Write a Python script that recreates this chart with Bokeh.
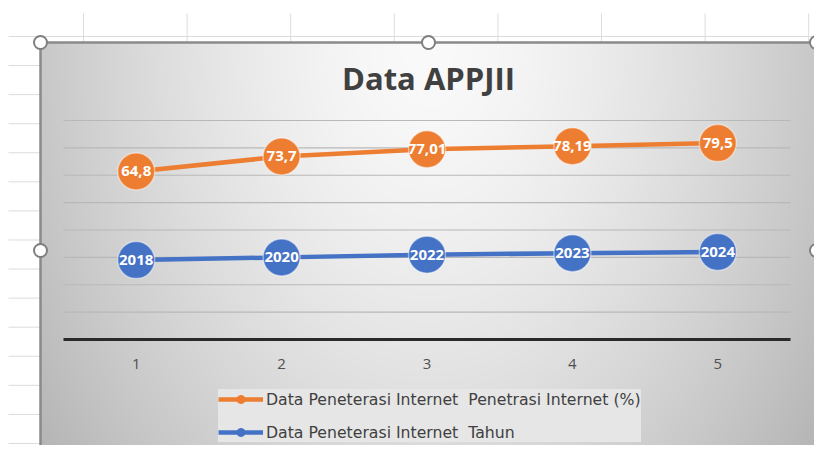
import numpy as np
from bokeh.plotting import figure
from bokeh.models import Range1d, Legend, LegendItem
from bokeh.core.properties import value
from bokeh.embed import file_html
from bokeh.resources import INLINE

# ---------------- data ----------------
categories = [1, 2, 3, 4, 5]
tick_labels = ["1", "2", "3", "4", "5"]
tahun = [2018, 2020, 2022, 2023, 2024]
penetrasi = [64.8, 73.7, 77.01, 78.19, 79.5]
y_ticks = [1960, 1980, 2000, 2020, 2040, 2060, 2080, 2100, 2120]
chart_title = "Data APPJII"
series_names = ["Data Peneterasi Internet  Penetrasi Internet (%)",
                "Data Peneterasi Internet  Tahun"]

# stacked line chart (Excel "stacked line"): second series sits on top of the first
stacked = [t + v for t, v in zip(tahun, penetrasi)]
pen_labels = [str(v).replace(".", ",") for v in penetrasi]
year_labels = [str(t) for t in tahun]

ORANGE = "#ED7D31"
BLUE = "#4472C4"

# ---------------- layout (picture pixels) ----------------
W, H = 814, 445
OX, OY = 0, 0
CH_L, CH_R, CH_T, CH_B = 40, 816, 42, 458          # chart object box
PA_L, PA_R, PA_T, PA_B = 63, 790, 120, 339          # plot area box

p = figure(width=W, height=H, output_backend="svg", toolbar_location=None,
           x_range=Range1d(OX, OX + W), y_range=Range1d(OY + H, OY),
           x_axis_type=None, y_axis_type=None, min_border=0)
p.outline_line_color = None
p.background_fill_color = "white"
p.border_fill_color = "white"

# data ranges mapped onto the plot area
xs = (PA_R - PA_L) / 5.0
ys = (PA_B - PA_T) / float(y_ticks[-1] - y_ticks[0])
p.extra_x_ranges = {"cat": Range1d(0.5 - (PA_L - OX) / xs, 5.5 + (OX + W - PA_R) / xs)}
p.extra_y_ranges = {"val": Range1d(y_ticks[0] - (OY + H - PA_B) / ys,
                                   y_ticks[-1] + (PA_T - OY) / ys)}

# ---------------- spreadsheet background ----------------
col_x = [83 + 103.6 * k for k in range(8)]
row_y = [36 + 29.07 * k for k in range(15)]
p.segment(x0=col_x, y0=[13] * len(col_x), x1=col_x, y1=[OY + H] * len(col_x),
          line_color="#dcdcdc", line_width=1)
p.segment(x0=[8] * len(row_y), y0=row_y, x1=[OX + W] * len(row_y), y1=row_y,
          line_color="#dcdcdc", line_width=1)

# ---------------- chart gradient background ----------------
gw, gh = CH_R - CH_L, CH_B - CH_T
u = np.linspace(-1, 1, gw)[None, :]
v = np.linspace(0, 1, gh)[:, None]
d = np.sqrt(u ** 2 + (0.75 * v) ** 2)
g = np.clip(250 - 50 * d ** 1.5, 178, 252).astype(np.uint32)
img = (255 << 24) | (g << 16) | (g << 8) | g
img = img.astype(np.uint32)
p.image_rgba(image=[img], x=CH_L, y=CH_T, dw=gw, dh=gh)

# chart border
p.quad(left=[CH_L], right=[CH_R], top=[CH_T], bottom=[CH_B], fill_color=None,
       line_color="#8a8a8a", line_width=2.5)

# ---------------- title ----------------
p.text(x=[(CH_L + CH_R) / 2], y=[77], text=[chart_title], text_font=value("Open Sans"),
       text_font_style="bold", text_font_size="31px", text_color="#404040",
       text_align="center", text_baseline="middle")

# ---------------- gridlines and axis ----------------
gl = y_ticks[1:]
p.segment(x0=[0.5] * len(gl), x1=[5.5] * len(gl), y0=gl, y1=gl,
          line_color="#b8b8b8", line_width=1.2, x_range_name="cat", y_range_name="val")
p.segment(x0=[0.5], x1=[5.5], y0=[y_ticks[0]], y1=[y_ticks[0]],
          line_color="#2a2a2a", line_width=3, x_range_name="cat", y_range_name="val")
p.text(x=categories, y=[y_ticks[0]] * len(categories), text=tick_labels, y_offset=24,
       text_font=value("Open Sans"), text_font_size="15px", text_color="#505050",
       text_align="center", text_baseline="middle", x_range_name="cat", y_range_name="val")

# ---------------- series ----------------
for yv, col, labs in ((tahun, BLUE, year_labels), (stacked, ORANGE, pen_labels)):
    p.line(x=categories, y=yv, line_color=col, line_width=4.5,
           x_range_name="cat", y_range_name="val")
    p.scatter(x=categories, y=yv, size=37, fill_color=col, line_color="white",
              line_alpha=0.45, line_width=1.5, x_range_name="cat", y_range_name="val")
    p.text(x=categories, y=yv, text=labs, text_font=value("Open Sans"),
           text_font_style="bold", text_font_size="15px", text_color="white",
           text_align="center", text_baseline="middle",
           x_range_name="cat", y_range_name="val")

# ---------------- legend (proxy renderers placed off-canvas) ----------------
items = []
for name, col in zip(series_names, (ORANGE, BLUE)):
    lr = p.line(x=[-100, -90], y=[-100, -100], line_color=col, line_width=4.5)
    sr = p.scatter(x=[-95], y=[-100], size=10, fill_color=col, line_color=col)
    items.append(LegendItem(label=name, renderers=[lr, sr]))
legend = Legend(items=items, location=(218, 3),
                background_fill_color="#e6e6e6", background_fill_alpha=1,
                border_line_color=None, label_text_font="DejaVu Sans",
                label_text_font_size="15.7px", label_text_color="#404040",
                glyph_width=45, glyph_height=20, label_height=20, spacing=13,
                padding=6, margin=0, label_standoff=3)
p.add_layout(legend)

# ---------------- selection handles ----------------
mx, my = (CH_L + CH_R) / 2, (CH_T + CH_B) / 2
hx = [CH_L, mx, CH_R, CH_L, CH_R, CH_L, mx, CH_R]
hy = [CH_T, CH_T, CH_T, my, my, CH_B, CH_B, CH_B]
p.scatter(x=hx, y=hy, size=13, fill_color="white", line_color="#7f7f7f", line_width=2)

open("out.html", "w").write(file_html(p, INLINE))
